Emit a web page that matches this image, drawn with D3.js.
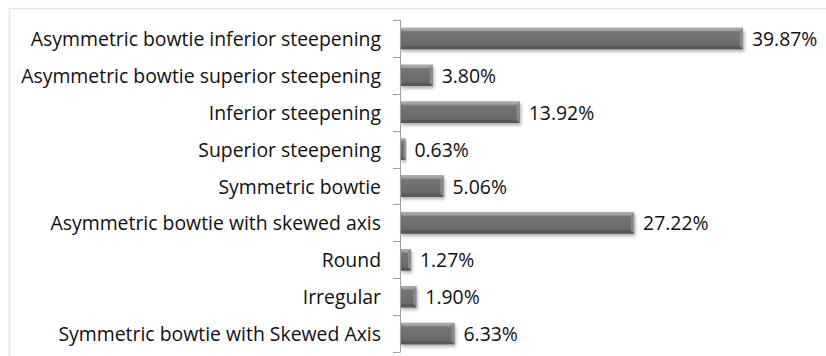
<!DOCTYPE html>
<html><head><meta charset="utf-8">
<script src="https://cdn.jsdelivr.net/npm/d3@7"></script>
<style>html,body{margin:0;padding:0;background:#fff;}svg{display:block;}</style>
</head><body>
<svg id="chart" width="826" height="356"></svg>
<script>
const categories = [
  "Asymmetric bowtie inferior steepening",
  "Asymmetric bowtie superior steepening",
  "Inferior steepening",
  "Superior steepening",
  "Symmetric bowtie",
  "Asymmetric bowtie with skewed axis",
  "Round",
  "Irregular",
  "Symmetric bowtie with Skewed Axis"
];
const values = [39.87, 3.80, 13.92, 0.63, 5.06, 27.22, 1.27, 1.90, 6.33];
const valueLabels = ["39.87%","3.80%","13.92%","0.63%","5.06%","27.22%","1.27%","1.90%","6.33%"];
const xDomain = [0, 40];

const svg = d3.select("#chart");
const pL = 400, pR = 744, pT = 20, pB = 352;
const FONT = "'Open Sans', 'Liberation Sans', sans-serif";

// frame
svg.append("rect").attr("x", 9.5).attr("y", 8.5).attr("width", 840).attr("height", 360)
  .attr("fill", "none").attr("stroke", "#e6e6dc").attr("stroke-width", 1.5);

const defs = svg.append("defs");
const g1 = defs.append("linearGradient").attr("id", "barGrad").attr("x1", 0).attr("y1", 0).attr("x2", 0).attr("y2", 1);
[[0, "#a8a8a8"], [0.12, "#8a8a8a"], [0.22, "#747474"], [0.8, "#6a6a6a"], [0.9, "#5e5e5e"], [1, "#555555"]]
  .forEach(([o, c]) => g1.append("stop").attr("offset", o).attr("stop-color", c));
const f = defs.append("filter").attr("id", "shadow").attr("x", "-10%").attr("y", "-20%").attr("width", "130%").attr("height", "170%");
f.append("feDropShadow").attr("dx", 1.5).attr("dy", 2.5).attr("stdDeviation", 1.6).attr("flood-color", "#000").attr("flood-opacity", 0.3);

const x = d3.scaleLinear().domain(xDomain).range([pL, pR]);
const y = d3.scaleBand().domain(categories).range([pT, pB]).paddingInner(0).paddingOuter(0);
const barH = y.bandwidth() * 0.58;

// bars
const bars = svg.append("g");
categories.forEach((c, i) => {
  const x0 = x(0), x1 = x(values[i]);
  const yc = y(c) + y.bandwidth() / 2;
  const w = x1 - x0;
  const gg = bars.append("g");
  gg.append("rect").attr("x", x0).attr("y", yc - barH / 2).attr("width", w).attr("height", barH)
    .attr("fill", "url(#barGrad)").attr("filter", "url(#shadow)");
  const bv = Math.min(3, w / 3);
  gg.append("path")
    .attr("d", `M${x1},${yc - barH / 2} L${x1 - bv},${yc - barH / 2 + bv} L${x1 - bv},${yc + barH / 2 - bv} L${x1},${yc + barH / 2} Z`)
    .attr("fill", "#8c8c8c");
  gg.append("path")
    .attr("d", `M${x0},${yc + barH / 2} L${x0 + bv},${yc + barH / 2 - bv} L${x1 - bv},${yc + barH / 2 - bv} L${x1},${yc + barH / 2} Z`)
    .attr("fill", "#575757");
  gg.append("path")
    .attr("d", `M${x0},${yc - barH / 2} L${x1},${yc - barH / 2} L${x1 - bv},${yc - barH / 2 + bv} L${x0 + bv},${yc - barH / 2 + bv} Z`)
    .attr("fill", "#a6a6a6");
});

// axis
const axis = d3.axisLeft(y).tickSize(0).tickFormat("");
const ax = svg.append("g").attr("transform", `translate(${pL},0)`).call(axis);
ax.select(".domain").attr("stroke", "#a0a0a0").attr("d", `M0.5,${pT}V${pB}`);
const bounds = categories.map(c => y(c)).concat([pB]);
svg.append("g").selectAll("line").data(bounds).join("line")
  .attr("x1", pL - 7).attr("x2", pL + 0.5)
  .attr("y1", d => Math.round(d) + 0.5).attr("y2", d => Math.round(d) + 0.5)
  .attr("stroke", "#a0a0a0");

// category labels
const catT = svg.append("g").selectAll("text").data(categories).join("text")
  .attr("x", 381).attr("y", d => y(d) + y.bandwidth() / 2)
  .attr("text-anchor", "end").attr("dominant-baseline", "central")
  .attr("font-family", FONT).attr("font-size", 15).attr("fill", "#111")
  .text(d => d);
let maxW = 0; catT.each(function () { maxW = Math.max(maxW, this.getComputedTextLength()); });
const fs = 15 * 360 / maxW;
catT.attr("font-size", fs);

// value labels
svg.append("g").selectAll("text").data(values).join("text")
  .attr("x", d => x(d) + 9).attr("y", (d, i) => y(categories[i]) + y.bandwidth() / 2)
  .attr("dominant-baseline", "central")
  .attr("font-family", FONT).attr("font-size", fs).attr("fill", "#111")
  .text((d, i) => valueLabels[i]);
</script>
</body></html>
